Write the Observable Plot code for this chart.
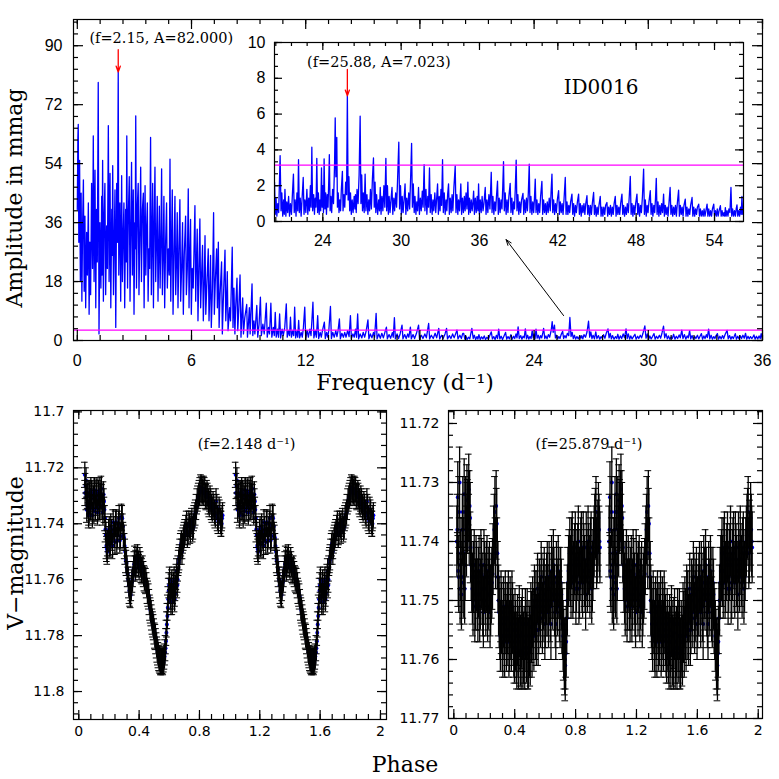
<!DOCTYPE html>
<html><head><meta charset="utf-8">
<script src="https://cdn.jsdelivr.net/npm/d3@7"></script>
<script src="https://cdn.jsdelivr.net/npm/@observablehq/plot@0.6"></script>
<style>
body{margin:0;background:#fff;}
#chart{position:relative;width:779px;height:779px;overflow:hidden;background:#fff;}
#chart svg{position:absolute;left:0;top:0;}
.ttl{position:absolute;font-family:"DejaVu Serif",serif;font-size:22px;white-space:nowrap;transform:translate(-50%,-50%);color:#000;}
.rot{transform:translate(-50%,-50%) rotate(-90deg);}
</style></head><body><div id="chart"></div>
<script>
// ---------------- DATA ----------------
// Periodogram, low frequencies [frequency d^-1, amplitude mmag]
const lowSpec = [[0.00,40],[0.03,62],[0.05,66],[0.08,30],[0.12,55],[0.16,18],[0.20,45],[0.24,12],[0.28,36],[0.32,49],[0.36,15],[0.40,38],[0.44,10],[0.49,33],[0.53,20],[0.58,42],[0.62,8],[0.66,30],[0.70,14],[0.75,48],[0.80,22],[0.84,62.5],[0.88,18],[0.93,52],[0.97,10],[1.01,40],[1.05,24],[1.10,78.8],[1.14,2],[1.19,36],[1.24,16],[1.28,44],[1.30,20],[1.33,55],[1.37,12],[1.41,38],[1.45,48],[1.49,14],[1.54,35],[1.58,22],[1.63,65.6],[1.67,18],[1.72,51],[1.76,10],[1.81,40],[1.83,26],[1.86,53.4],[1.90,14],[1.94,30],[1.98,46],[2.02,4],[2.07,48],[2.11,30],[2.15,82],[2.18,20],[2.21,35],[2.24,42],[2.28,12],[2.33,50.3],[2.37,18],[2.41,32],[2.45,42],[2.49,10],[2.54,40],[2.57,24],[2.60,62.5],[2.64,16],[2.68,38],[2.73,50],[2.77,12],[2.81,34],[2.85,54.4],[2.89,20],[2.94,46],[2.98,8],[3.02,36],[3.04,28],[3.07,68.6],[3.11,16],[3.16,42],[3.20,48],[3.24,14],[3.28,30],[3.33,52.9],[3.37,18],[3.42,40],[3.47,45],[3.51,10],[3.56,47.3],[3.60,20],[3.64,34],[3.68,42],[3.72,12],[3.76,28],[3.80,22],[3.85,62],[3.89,14],[3.96,48],[4.00,10],[4.04,36],[4.08,52.9],[4.12,18],[4.16,30],[4.20,44],[4.24,12],[4.31,41],[4.35,16],[4.39,30],[4.43,52.4],[4.47,14],[4.51,26],[4.55,44],[4.59,10],[4.64,30],[4.69,42],[4.73,16],[4.78,28],[4.83,20],[4.87,55.4],[4.91,12],[4.95,30],[4.99,46],[5.03,8],[5.08,26],[5.13,44],[5.17,14],[5.21,24],[5.25,39],[5.29,10],[5.34,28],[5.39,43],[5.43,12],[5.48,22],[5.53,36],[5.57,8],[5.62,26],[5.69,38],[5.73,14],[5.78,22],[5.83,46.3],[5.87,10],[5.91,26],[5.95,37],[5.99,8],[6.04,22],[6.09,16],[6.18,41.2],[6.22,12],[6.26,24],[6.30,34],[6.34,6],[6.39,22],[6.44,37.1],[6.48,10],[6.53,20],[6.58,29],[6.62,6],[6.67,18],[6.71,32],[6.75,8],[6.80,16],[6.88,28],[6.92,6],[6.96,14],[7.00,26],[7.04,4],[7.10,16],[7.16,39],[7.20,8],[7.25,18],[7.32,28],[7.36,10],[7.41,30],[7.45,4],[7.50,14],[7.58,24],[7.62,2],[7.67,12],[7.76,27.6],[7.80,6],[7.84,12],[7.88,21],[7.92,3],[8.00,10],[8.05,6],[8.14,28.5],[8.18,4],[8.23,16],[8.28,2],[8.32,10],[8.39,19],[8.43,3],[8.48,9],[8.55,20],[8.60,1],[8.65,8],[8.69,13],[8.73,2],[8.80,7],[8.90,11],[8.94,1],[9.00,6],[9.04,10],[9.08,2],[9.18,17.3]];
// Periodogram, mid frequencies
const midSpec = [[9.22,1.5],[9.28,6],[9.33,2],[9.43,10.7],[9.48,1],[9.55,5],[9.62,13.2],[9.67,1.5],[9.75,5],[9.82,2],[9.93,11.4],[9.98,1],[10.05,4],[10.10,2],[10.17,11.4],[10.22,1],[10.30,4],[10.35,1.5],[10.40,8.6],[10.45,1],[10.52,3.5],[10.57,1],[10.63,8.1],[10.68,0.8],[10.76,3.5],[10.82,1.5],[10.90,4],[10.98,11.2],[11.03,1],[11.10,3],[11.15,1.5],[11.20,7.1],[11.25,1],[11.32,3],[11.37,1.5],[11.42,10.2],[11.47,0.8],[11.55,3],[11.58,1],[11.63,6.1],[11.68,0.8],[11.76,2.5],[11.82,1],[11.88,4],[11.95,10.2],[12.00,0.8],[12.08,3],[12.14,1],[12.22,3.5],[12.28,1.5],[12.38,11.7],[12.43,0.8],[12.50,3],[12.56,1],[12.63,7.6],[12.68,0.6],[12.76,2.5],[12.82,1],[12.88,3],[12.98,5.6],[13.03,0.6],[13.10,2.5],[13.16,1],[13.22,3.5],[13.30,10.4],[13.35,0.6],[13.42,2.5],[13.50,1],[13.58,3],[13.64,1.2],[13.70,3],[13.77,6.6],[13.82,0.5],[13.90,2.2],[13.98,1],[14.05,2.5],[14.12,1],[14.20,3],[14.28,1.2],[14.35,7.6],[14.40,0.6],[14.48,2],[14.55,1],[14.62,3.5],[14.67,1],[14.73,8.1],[14.78,0.5],[14.86,2],[14.95,0.8],[15.02,2.5],[15.10,1],[15.18,3],[15.27,6.3],[15.32,0.5],[15.40,2],[15.48,0.8],[15.56,2.5],[15.62,1],[15.70,8.3],[15.75,0.5],[15.84,2],[15.92,0.7],[16.00,2.2],[16.08,0.8],[16.16,2.5],[16.24,4.1],[16.29,0.5],[16.38,1.8],[16.46,0.7],[16.55,2.4],[16.60,1],[16.66,7],[16.71,0.5],[16.80,2],[16.88,0.6],[16.96,2],[17.06,4.7],[17.11,0.5],[17.20,1.8],[17.28,0.6],[17.36,2],[17.42,1],[17.50,4.1],[17.55,0.5],[17.64,1.8],[17.72,0.6],[17.82,2.2],[17.93,4.7],[17.98,0.5],[18.08,1.6],[18.16,0.6],[18.26,2],[18.34,0.8],[18.46,5.2],[18.51,0.5],[18.60,1.6],[18.70,0.6],[18.80,2.2],[18.88,0.8],[18.99,3.7],[19.04,0.5],[19.14,1.6],[19.22,0.6],[19.32,2],[19.40,3.7],[19.45,0.5],[19.55,1.5],[19.63,0.6],[19.72,2],[19.80,0.8],[19.95,3.2],[20.00,0.5],[20.10,1.6],[20.18,0.6],[20.25,2.2]];
// Periodogram, high frequencies (shown in main panel and in the inset)
const hiSpec = [[20.30,2.2],[20.36,0.4],[20.42,1.3],[20.48,0.3],[20.55,1.0],[20.62,0.5],[20.73,3.68],[20.80,0.6],[20.86,1.6],[20.93,0.3],[21.00,1.2],[21.05,0.4],[21.10,1.8],[21.17,0.3],[21.24,1.1],[21.31,0.5],[21.38,1.4],[21.45,0.3],[21.52,1.0],[21.60,0.4],[21.67,1.5],[21.75,2.65],[21.81,0.5],[21.88,1.2],[21.95,0.3],[22.02,1.6],[22.08,0.6],[22.14,3.45],[22.20,0.5],[22.27,1.3],[22.34,0.3],[22.42,1.4],[22.50,2.46],[22.56,0.4],[22.63,1.2],[22.70,0.5],[22.78,1.8],[22.85,0.4],[22.92,1.3],[22.98,0.6],[23.05,2.0],[23.10,0.8],[23.16,4.15],[23.22,0.6],[23.30,1.5],[23.36,0.4],[23.42,1.3],[23.48,0.8],[23.54,3.53],[23.60,0.5],[23.66,1.6],[23.72,0.4],[23.78,1.2],[23.84,0.6],[23.90,3.0],[23.95,0.8],[24.00,2.0],[24.05,0.5],[24.10,3.5],[24.16,0.7],[24.22,1.6],[24.28,0.4],[24.34,1.5],[24.40,0.8],[24.46,2.4],[24.50,3.73],[24.56,0.6],[24.62,1.4],[24.68,0.5],[24.75,1.8],[24.82,1.0],[24.90,3.2],[24.95,5.79],[25.00,2.5],[25.07,4.7],[25.12,0.8],[25.18,1.6],[25.24,0.5],[25.30,1.2],[25.36,0.6],[25.42,1.8],[25.50,2.8],[25.55,0.6],[25.62,1.5],[25.68,0.8],[25.75,2.2],[25.82,1.5],[25.88,7.02],[25.94,1.2],[26.00,2.5],[26.06,0.6],[26.12,1.6],[26.18,0.4],[26.25,1.2],[26.32,0.5],[26.40,1.4],[26.46,0.7],[26.50,1.5],[26.56,0.5],[26.62,1.8],[26.70,1.0],[26.78,2.6],[26.86,5.88],[26.92,1.0],[26.98,2.6],[27.04,0.6],[27.10,1.6],[27.17,0.5],[27.24,2.65],[27.30,0.6],[27.38,1.5],[27.45,0.4],[27.52,1.2],[27.58,0.6],[27.65,1.8],[27.72,0.7],[27.80,2.4],[27.88,3.55],[27.94,0.8],[28.00,2.2],[28.06,0.5],[28.12,1.5],[28.20,0.4],[28.28,1.2],[28.34,0.6],[28.40,1.9],[28.46,0.4],[28.53,1.4],[28.60,0.6],[28.68,2.0],[28.75,0.8],[28.83,3.53],[28.89,0.6],[28.95,2.0],[29.02,0.4],[29.08,1.4],[29.15,0.5],[29.22,1.2],[29.30,1.9],[29.36,0.4],[29.44,1.3],[29.50,0.6],[29.58,1.6],[29.65,0.8],[29.72,2.2],[29.82,4.43],[29.88,0.7],[29.95,2.0],[30.02,0.4],[30.08,1.4],[30.15,0.5],[30.22,1.2],[30.30,2.1],[30.36,0.4],[30.43,1.3],[30.50,0.6],[30.58,1.6],[30.65,0.7],[30.72,2.3],[30.80,4.37],[30.86,0.8],[30.93,2.1],[31.00,0.5],[31.06,1.4],[31.13,0.4],[31.20,1.1],[31.26,0.6],[31.33,1.9],[31.40,0.4],[31.47,1.3],[31.54,0.6],[31.62,1.7],[31.68,0.8],[31.76,3.17],[31.82,0.6],[31.90,1.8],[31.97,0.4],[32.04,1.4],[32.10,0.8],[32.17,2.99],[32.23,0.5],[32.30,1.5],[32.37,0.4],[32.44,1.2],[32.50,0.6],[32.58,1.6],[32.65,0.5],[32.72,1.3],[32.79,2.1],[32.85,0.4],[32.92,1.4],[32.98,0.6],[33.05,1.8],[33.10,0.9],[33.17,3.45],[33.23,0.5],[33.30,1.6],[33.37,0.4],[33.44,1.2],[33.50,0.6],[33.56,1.5],[33.63,2.1],[33.69,0.4],[33.76,1.3],[33.83,0.5],[33.90,1.5],[33.96,0.6],[34.04,1.9],[34.14,3.1],[34.20,0.5],[34.27,1.5],[34.34,0.4],[34.40,1.2],[34.47,0.6],[34.57,2.1],[34.63,0.4],[34.70,1.3],[34.77,0.5],[34.84,1.4],[34.90,0.6],[34.97,1.6],[35.04,0.7],[35.11,2.2],[35.17,0.4],[35.24,1.3],[35.30,0.5],[35.37,1.2],[35.44,0.6],[35.50,1.1],[35.55,1.7],[35.61,0.4],[35.68,1.3],[35.75,0.5],[35.82,1.4],[35.88,0.6],[35.93,2.1],[35.99,0.4],[36.06,1.2],[36.13,0.5],[36.20,1.4],[36.27,0.6],[36.34,1.0],[36.44,1.9],[36.50,0.4],[36.57,1.2],[36.64,0.5],[36.72,1.5],[36.80,0.7],[36.90,2.75],[36.96,0.5],[37.03,1.4],[37.10,0.4],[37.17,1.1],[37.24,0.6],[37.30,1.4],[37.38,2.25],[37.44,0.4],[37.51,1.3],[37.58,0.5],[37.65,1.2],[37.72,0.7],[37.78,1.9],[37.84,3.35],[37.90,0.6],[37.97,1.6],[38.04,0.4],[38.11,1.2],[38.18,0.5],[38.25,1.4],[38.35,2.13],[38.41,0.5],[38.48,1.3],[38.55,0.4],[38.62,1.1],[38.68,0.7],[38.74,1.8],[38.81,3.43],[38.87,0.6],[38.94,1.5],[39.01,0.4],[39.08,1.1],[39.15,0.5],[39.22,1.2],[39.33,1.57],[39.39,0.4],[39.46,1.2],[39.53,0.5],[39.60,1.3],[39.67,0.6],[39.74,1.6],[39.81,3.2],[39.87,0.5],[39.94,1.4],[40.01,0.4],[40.08,1.1],[40.15,0.5],[40.21,1.3],[40.27,2.37],[40.33,0.5],[40.40,1.2],[40.47,0.4],[40.54,1.0],[40.61,0.5],[40.68,1.4],[40.78,2.24],[40.84,0.4],[40.91,1.2],[40.98,0.5],[41.05,1.0],[41.12,0.4],[41.19,1.1],[41.26,0.5],[41.34,1.3],[41.42,0.6],[41.48,1.6],[41.55,2.65],[41.61,0.5],[41.68,1.2],[41.75,0.4],[41.82,1.0],[41.89,0.5],[41.96,1.2],[42.06,1.72],[42.12,0.4],[42.19,1.1],[42.26,0.5],[42.33,1.0],[42.40,0.4],[42.48,1.3],[42.57,2.46],[42.63,0.4],[42.70,1.1],[42.77,0.4],[42.84,0.9],[42.91,0.5],[42.98,1.1],[43.08,1.53],[43.14,0.4],[43.21,1.0],[43.28,0.3],[43.35,0.9],[43.42,0.5],[43.50,1.1],[43.59,1.53],[43.65,0.4],[43.72,1.0],[43.79,0.3],[43.86,0.9],[43.93,0.5],[44.00,1.0],[44.07,0.4],[44.14,1.0],[44.23,1.44],[44.29,0.4],[44.36,0.9],[44.43,0.3],[44.50,0.9],[44.57,0.4],[44.64,1.0],[44.74,1.62],[44.80,0.4],[44.87,0.9],[44.94,0.3],[45.01,0.8],[45.08,0.4],[45.15,0.9],[45.25,1.4],[45.31,0.3],[45.38,0.8],[45.45,0.3],[45.52,0.8],[45.59,0.4],[45.66,0.9],[45.76,1.06],[45.82,0.3],[45.89,0.8],[45.96,0.4],[46.03,0.9],[46.10,0.3],[46.17,0.8],[46.24,0.4],[46.31,1.0],[46.40,1.4],[46.46,0.3],[46.53,0.9],[46.60,0.4],[46.67,0.8],[46.74,0.4],[46.81,1.0],[46.91,1.53],[46.97,0.4],[47.04,0.9],[47.11,0.3],[47.18,0.8],[47.25,0.4],[47.32,1.0],[47.40,0.5],[47.47,1.4],[47.55,2.52],[47.61,0.4],[47.68,1.0],[47.75,0.3],[47.82,0.9],[47.89,0.4],[47.96,1.0],[48.06,1.53],[48.12,0.4],[48.19,1.0],[48.26,0.3],[48.33,0.9],[48.40,0.5],[48.48,1.4],[48.57,2.93],[48.63,0.4],[48.70,1.2],[48.77,0.3],[48.84,0.9],[48.91,0.5],[48.98,1.1],[49.08,1.72],[49.14,0.4],[49.21,1.0],[49.28,0.3],[49.35,0.9],[49.42,0.5],[49.48,1.3],[49.54,2.41],[49.60,0.4],[49.67,1.1],[49.74,0.3],[49.81,0.9],[49.88,0.4],[49.95,1.0],[50.02,0.5],[50.10,1.53],[50.16,0.3],[50.23,0.9],[50.30,0.4],[50.37,0.8],[50.44,0.3],[50.51,1.0],[50.60,1.9],[50.66,0.4],[50.73,0.9],[50.80,0.3],[50.87,0.8],[50.94,0.4],[51.01,0.9],[51.08,0.3],[51.15,1.0],[51.25,1.75],[51.31,0.3],[51.38,0.9],[51.45,0.4],[51.52,0.8],[51.59,0.3],[51.66,0.9],[51.76,1.25],[51.82,0.3],[51.89,0.8],[51.96,0.3],[52.03,0.7],[52.10,0.4],[52.17,0.9],[52.28,1.34],[52.34,0.3],[52.41,0.8],[52.48,0.3],[52.55,0.7],[52.62,0.4],[52.69,0.8],[52.79,0.97],[52.85,0.3],[52.92,0.7],[52.99,0.3],[53.06,0.6],[53.13,0.3],[53.20,0.7],[53.27,0.3],[53.34,0.6],[53.43,0.97],[53.49,0.3],[53.56,0.7],[53.63,0.3],[53.70,0.6],[53.77,0.3],[53.84,0.7],[53.94,0.97],[54.00,0.3],[54.07,0.6],[54.14,0.3],[54.21,0.7],[54.28,0.3],[54.35,0.6],[54.45,0.88],[54.51,0.3],[54.58,0.6],[54.65,0.3],[54.72,0.5],[54.78,0.3],[54.83,0.78],[54.89,0.3],[54.96,0.6],[55.03,0.3],[55.10,0.7],[55.18,0.5],[55.26,1.9],[55.32,0.3],[55.39,0.7],[55.46,0.3],[55.53,0.6],[55.60,0.3],[55.66,0.7],[55.72,0.93],[55.78,0.3],[55.85,0.6],[55.92,0.3],[55.99,0.8],[56.05,0.4],[56.10,1.4],[56.16,0.4],[56.22,0.8]];

const noiseLevel = 3.15;               // magenta significance line (mmag)
const mainPeak = {f: 2.15, a: 82.000}; // highest peak
const insetPeak = {f: 25.88, a: 7.023};
const starId = "ID0016";
// pointer from main-panel peak towards the inset [f1, a1, f2, a2]
const pointer = [[25.55, 7.6, 22.53, 30.8]];

// Phased light curves (one cycle, shown twice) [phase, V magnitude]
const leftFreq = 2.148;
const leftPoints = [[0.040,11.7225],[0.045,11.7265],[0.050,11.7305],[0.056,11.7335],[0.062,11.7290],[0.068,11.7360],[0.074,11.7320],[0.080,11.7280],[0.087,11.7340],[0.094,11.7300],[0.100,11.7355],[0.107,11.7295],[0.114,11.7325],[0.120,11.7285],[0.127,11.7345],[0.134,11.7310],[0.140,11.7280],[0.147,11.7335],[0.154,11.7305],[0.160,11.7360],[0.167,11.7320],[0.174,11.7380],[0.180,11.7440],[0.186,11.7490],[0.192,11.7470],[0.198,11.7430],[0.205,11.7475],[0.212,11.7410],[0.220,11.7450],[0.228,11.7395],[0.236,11.7440],[0.244,11.7400],[0.252,11.7460],[0.260,11.7420],[0.268,11.7380],[0.276,11.7445],[0.284,11.7375],[0.292,11.7410],[0.300,11.7450],[0.308,11.7500],[0.316,11.7540],[0.324,11.7580],[0.332,11.7620],[0.340,11.7650],[0.348,11.7630],[0.356,11.7600],[0.364,11.7560],[0.372,11.7525],[0.380,11.7540],[0.390,11.7520],[0.400,11.7555],[0.410,11.7545],[0.420,11.7570],[0.430,11.7580],[0.440,11.7600],[0.450,11.7620],[0.460,11.7650],[0.468,11.7680],[0.476,11.7710],[0.484,11.7735],[0.492,11.7760],[0.500,11.7785],[0.508,11.7805],[0.516,11.7835],[0.524,11.7860],[0.532,11.7880],[0.540,11.7890],[0.548,11.7895],[0.556,11.7890],[0.564,11.7885],[0.572,11.7860],[0.578,11.7820],[0.584,11.7760],[0.590,11.7700],[0.596,11.7640],[0.602,11.7600],[0.608,11.7660],[0.614,11.7625],[0.620,11.7680],[0.626,11.7640],[0.632,11.7600],[0.638,11.7650],[0.644,11.7610],[0.650,11.7570],[0.656,11.7600],[0.662,11.7540],[0.668,11.7520],[0.676,11.7480],[0.684,11.7500],[0.692,11.7460],[0.700,11.7440],[0.710,11.7415],[0.720,11.7440],[0.730,11.7400],[0.740,11.7425],[0.750,11.7390],[0.760,11.7410],[0.770,11.7370],[0.780,11.7340],[0.790,11.7310],[0.800,11.7290],[0.810,11.7270],[0.820,11.7285],[0.830,11.7275],[0.840,11.7300],[0.850,11.7290],[0.860,11.7320],[0.870,11.7310],[0.880,11.7340],[0.890,11.7330],[0.900,11.7360],[0.910,11.7320],[0.920,11.7380],[0.930,11.7350],[0.940,11.7390],[0.947,11.7400],[0.953,11.7370],
[0.042,11.7290],[0.048,11.7245],[0.053,11.7350],[0.059,11.7300],[0.065,11.7370],[0.071,11.7295],[0.077,11.7345],[0.084,11.7290],[0.090,11.7370],[0.097,11.7310],[0.104,11.7280],[0.110,11.7345],[0.117,11.7300],[0.124,11.7360],[0.130,11.7290],[0.137,11.7340],[0.144,11.7300],[0.150,11.7275],[0.157,11.7340],[0.164,11.7295],[0.170,11.7350],[0.177,11.7420],[0.183,11.7480],[0.189,11.7500],[0.195,11.7455],[0.202,11.7420],[0.209,11.7470],[0.216,11.7430],[0.224,11.7480],[0.232,11.7420],[0.240,11.7465],[0.248,11.7395],[0.256,11.7440],[0.264,11.7400],[0.272,11.7460],[0.280,11.7410],[0.288,11.7380],[0.296,11.7440],[0.304,11.7480],[0.312,11.7530],[0.320,11.7560],[0.328,11.7600],[0.336,11.7640],[0.344,11.7655],[0.352,11.7610],[0.360,11.7580],[0.368,11.7545],[0.376,11.7560],[0.385,11.7530],[0.395,11.7545],[0.405,11.7530],[0.415,11.7565],[0.425,11.7560],[0.435,11.7595],[0.445,11.7605],[0.455,11.7640],[0.464,11.7660],[0.472,11.7700],[0.480,11.7720],[0.488,11.7750],[0.496,11.7770],[0.504,11.7800],[0.512,11.7820],[0.520,11.7850],[0.528,11.7870],[0.536,11.7885],[0.544,11.7895],[0.552,11.7890],[0.560,11.7895],[0.568,11.7875],[0.575,11.7845],[0.581,11.7790],[0.587,11.7730],[0.593,11.7670],[0.599,11.7620],[0.605,11.7640],[0.611,11.7680],[0.617,11.7610],[0.623,11.7660],[0.629,11.7620],[0.635,11.7670],[0.641,11.7630],[0.647,11.7590],[0.653,11.7620],[0.659,11.7560],[0.665,11.7530],[0.672,11.7500],[0.680,11.7470],[0.688,11.7480],[0.696,11.7450],[0.705,11.7430],[0.715,11.7400],[0.725,11.7430],[0.735,11.7410],[0.745,11.7400],[0.755,11.7420],[0.765,11.7380],[0.775,11.7360],[0.785,11.7320],[0.795,11.7300],[0.805,11.7280],[0.815,11.7275],[0.825,11.7290],[0.835,11.7280],[0.845,11.7305],[0.855,11.7300],[0.865,11.7330],[0.875,11.7320],[0.885,11.7350],[0.895,11.7340],[0.905,11.7370],[0.915,11.7340],[0.925,11.7390],[0.935,11.7360],[0.944,11.7400],[0.950,11.7380]];
const leftErr = 0.0045;

const rightFreq = 25.879;
const rightPoints = [[0.020,11.7400],[0.026,11.7325],[0.032,11.7460],[0.038,11.7300],[0.044,11.7440],[0.050,11.7490],[0.056,11.7380],[0.062,11.7470],[0.068,11.7320],[0.074,11.7440],[0.080,11.7380],[0.086,11.7330],[0.092,11.7355],[0.098,11.7312],[0.104,11.7340],[0.110,11.7410],[0.118,11.7460],[0.126,11.7500],[0.134,11.7440],[0.142,11.7490],[0.150,11.7460],[0.158,11.7510],[0.166,11.7450],[0.174,11.7490],[0.182,11.7455],[0.190,11.7500],[0.198,11.7440],[0.206,11.7480],[0.214,11.7460],[0.222,11.7510],[0.230,11.7470],[0.238,11.7520],[0.246,11.7480],[0.254,11.7455],[0.262,11.7400],[0.270,11.7350],[0.278,11.7340],[0.286,11.7420],[0.294,11.7500],[0.302,11.7540],[0.310,11.7510],[0.318,11.7560],[0.326,11.7520],[0.334,11.7570],[0.342,11.7530],[0.350,11.7550],[0.358,11.7510],[0.366,11.7560],[0.374,11.7540],[0.382,11.7510],[0.390,11.7550],[0.398,11.7580],[0.406,11.7560],[0.414,11.7590],[0.422,11.7570],[0.430,11.7535],[0.438,11.7585],[0.446,11.7555],[0.454,11.7590],[0.462,11.7570],[0.470,11.7540],[0.478,11.7580],[0.486,11.7590],[0.494,11.7560],[0.502,11.7585],[0.510,11.7545],[0.518,11.7520],[0.526,11.7560],[0.534,11.7510],[0.542,11.7550],[0.550,11.7480],[0.558,11.7530],[0.566,11.7500],[0.574,11.7460],[0.582,11.7530],[0.590,11.7490],[0.598,11.7540],[0.606,11.7500],[0.614,11.7460],[0.622,11.7520],[0.630,11.7480],[0.638,11.7540],[0.646,11.7470],[0.654,11.7440],[0.662,11.7500],[0.670,11.7540],[0.678,11.7490],[0.686,11.7450],[0.694,11.7510],[0.702,11.7470],[0.710,11.7530],[0.718,11.7560],[0.726,11.7590],[0.732,11.7610],[0.738,11.7570],[0.746,11.7500],[0.754,11.7450],[0.762,11.7420],[0.770,11.7470],[0.778,11.7410],[0.786,11.7460],[0.794,11.7430],[0.802,11.7480],[0.810,11.7440],[0.818,11.7400],[0.826,11.7470],[0.834,11.7420],[0.842,11.7460],[0.850,11.7410],[0.858,11.7450],[0.866,11.7490],[0.874,11.7440],[0.882,11.7400],[0.890,11.7450],[0.898,11.7420],[0.906,11.7480],[0.914,11.7440],[0.922,11.7400],[0.930,11.7370],[0.938,11.7420],[0.946,11.7390],[0.954,11.7380],[0.960,11.7410],
[0.023,11.7380],[0.029,11.7450],[0.035,11.7350],[0.041,11.7480],[0.047,11.7420],[0.053,11.7460],[0.059,11.7350],[0.065,11.7420],[0.071,11.7480],[0.077,11.7350],[0.083,11.7400],[0.089,11.7360],[0.095,11.7340],[0.101,11.7380],[0.107,11.7360],[0.114,11.7440],[0.122,11.7480],[0.130,11.7460],[0.138,11.7510],[0.146,11.7450],[0.154,11.7490],[0.162,11.7470],[0.170,11.7510],[0.178,11.7440],[0.186,11.7480],[0.194,11.7520],[0.202,11.7460],[0.210,11.7500],[0.218,11.7450],[0.226,11.7490],[0.234,11.7460],[0.242,11.7500],[0.250,11.7470],[0.258,11.7430],[0.266,11.7380],[0.274,11.7420],[0.282,11.7370],[0.290,11.7460],[0.298,11.7520],[0.306,11.7560],[0.314,11.7530],[0.322,11.7570],[0.330,11.7540],[0.338,11.7510],[0.346,11.7560],[0.354,11.7530],[0.362,11.7570],[0.370,11.7520],[0.378,11.7560],[0.386,11.7530],[0.394,11.7570],[0.402,11.7540],[0.410,11.7580],[0.418,11.7550],[0.426,11.7590],[0.434,11.7560],[0.442,11.7590],[0.450,11.7540],[0.458,11.7580],[0.466,11.7590],[0.474,11.7560],[0.482,11.7540],[0.490,11.7590],[0.498,11.7570],[0.506,11.7530],[0.514,11.7570],[0.522,11.7540],[0.530,11.7500],[0.538,11.7540],[0.546,11.7510],[0.554,11.7550],[0.562,11.7490],[0.570,11.7520],[0.578,11.7480],[0.586,11.7510],[0.594,11.7470],[0.602,11.7520],[0.610,11.7480],[0.618,11.7500],[0.626,11.7460],[0.634,11.7510],[0.642,11.7450],[0.650,11.7490],[0.658,11.7470],[0.666,11.7520],[0.674,11.7460],[0.682,11.7500],[0.690,11.7470],[0.698,11.7520],[0.706,11.7490],[0.714,11.7540],[0.722,11.7575],[0.729,11.7600],[0.735,11.7590],[0.742,11.7530],[0.750,11.7470],[0.758,11.7440],[0.766,11.7450],[0.774,11.7420],[0.782,11.7470],[0.790,11.7440],[0.798,11.7410],[0.806,11.7460],[0.814,11.7430],[0.822,11.7480],[0.830,11.7440],[0.838,11.7410],[0.846,11.7470],[0.854,11.7430],[0.862,11.7460],[0.870,11.7410],[0.878,11.7460],[0.886,11.7430],[0.894,11.7470],[0.902,11.7410],[0.910,11.7460],[0.918,11.7420],[0.926,11.7380],[0.934,11.7350],[0.942,11.7410],[0.950,11.7360],[0.957,11.7400]];
const rightErr = 0.006;

// Tick values
const mainXTicks = [0, 6, 12, 18, 24, 30, 36];
const mainYTicks = [0, 18, 36, 54, 72, 90];
const insetXTicks = [24, 30, 36, 42, 48, 54];
const insetYTicks = [0, 2, 4, 6, 8, 10];
const phaseTicks = [0, 0.4, 0.8, 1.2, 1.6, 2];
const leftYTicks = [11.7, 11.72, 11.74, 11.76, 11.78, 11.8];
const rightYTicks = [11.72, 11.73, 11.74, 11.75, 11.76, 11.77];

// ---------------- DRAWING ----------------
const fmt = d => String(+(+d).toFixed(3));
const SANS = "'Liberation Sans', Arial, Helvetica, sans-serif";
const SERIF = "'DejaVu Serif', serif";
const SIZE = 779;

function tickLabels(xVals, yVals, xPad, yPad) {
  return [
    Plot.axisX({ticks: xVals, anchor: "bottom", tickSize: 0, tickPadding: xPad, label: null, tickFormat: fmt}),
    Plot.axisY({ticks: yVals, anchor: "left", tickSize: 0, tickPadding: yPad, label: null, tickFormat: fmt})
  ];
}

// Panel geometry
const P = {
  main:  {l: 73,  r: 17,  t: 19,  b: 439, xd: [-0.2, 36],      yd: [0, 98],           rev: false},
  inset: {l: 274, r: 36,  t: 42,  b: 558, xd: [20.3, 56.22],   yd: [0, 10],           rev: false},
  left:  {l: 73,  r: 393, t: 410, b: 60,  xd: [-0.035, 2.04],  yd: [11.6995, 11.81],  rev: true},
  right: {l: 448, r: 17,  t: 410, b: 61,  xd: [-0.035, 2.028], yd: [11.7178, 11.77],  rev: true}
};

const chart = document.getElementById("chart");
const toRows = arr => arr.map(([f, a]) => ({f, a}));
const spectrum = toRows([...lowSpec, ...midSpec, ...hiSpec]);
const hiRows = toRows(hiSpec);

function base(p, style) {
  return {
    width: SIZE, height: SIZE,
    marginLeft: p.l, marginRight: p.r, marginTop: p.t, marginBottom: p.b,
    x: {domain: p.xd},
    y: {domain: p.yd, reverse: p.rev},
    style: {...style, background: "transparent", color: "#000"}
  };
}

// Main periodogram
chart.appendChild(Plot.plot({
  ...base(P.main, {fontFamily: SANS, fontSize: "16px"}),
  marks: [
    Plot.line(spectrum, {x: "f", y: "a", stroke: "#0000ff", strokeWidth: 1.3, clip: true}),
    Plot.ruleY([noiseLevel], {stroke: "#ff00ff", strokeWidth: 1.3}),
    Plot.arrow([mainPeak], {x1: "f", x2: "f", y1: d => d.a + 6.8, y2: "a", stroke: "#ff0000", strokeWidth: 1.3, headLength: 7, headAngle: 40}),
    Plot.text([mainPeak], {x: "f", y: "a", dx: 43, dy: -34, text: d => `(f=${d.f.toFixed(2)}, A=${d.a.toFixed(3)})`, fontFamily: SERIF, fontSize: 14.5, fill: "#000"}),
    Plot.arrow(pointer, {x1: d => d[0], y1: d => d[1], x2: d => d[2], y2: d => d[3], stroke: "#000", strokeWidth: 1, headLength: 9, headAngle: 40}),
    ...tickLabels(mainXTicks, mainYTicks, 14, 11)
  ]
}));

// Inset periodogram
chart.appendChild(Plot.plot({
  ...base(P.inset, {fontFamily: SANS, fontSize: "16px"}),
  marks: [
    Plot.line(hiRows, {x: "f", y: "a", stroke: "#0000ff", strokeWidth: 1.3, clip: true}),
    Plot.ruleY([noiseLevel], {stroke: "#ff00ff", strokeWidth: 1.2}),
    Plot.arrow([insetPeak], {x1: "f", x2: "f", y1: d => d.a + 1.47, y2: "a", stroke: "#ff0000", strokeWidth: 1.3, headLength: 7, headAngle: 40}),
    Plot.text([insetPeak], {x: "f", y: "a", dx: 31.5, dy: -33.7, text: d => `(f=${d.f.toFixed(2)}, A=${d.a.toFixed(3)})`, fontFamily: SERIF, fontSize: 14.5, fill: "#000"}),
    Plot.text([starId], {frameAnchor: "top-right", dx: -105, dy: 37, fontFamily: SERIF, fontSize: 20, fill: "#000"}),
    ...tickLabels(insetXTicks, insetYTicks, 13, 9)
  ]
}));

// Light curves
function lightCurve(p, points, err, freq, yMaj, ldx) {
  const one = points.map(([ph, mg]) => ({phase: ph, mag: mg}));
  const rows = [...one, ...one.map(d => ({phase: d.phase + 1, mag: d.mag}))];
  const capW = 0.022;
  return Plot.plot({
    ...base(p, {fontFamily: "'DejaVu Sans', sans-serif", fontSize: "14px"}),
    marks: [
      Plot.dot(rows, {x: "phase", y: "mag", r: 2, fill: "#0000ff"}),
      Plot.ruleX(rows, {x: "phase", y1: d => d.mag - err, y2: d => d.mag + err, stroke: "#000", strokeWidth: 1.3}),
      Plot.ruleY(rows, {y: d => d.mag - err, x1: d => d.phase - capW, x2: d => d.phase + capW, stroke: "#000", strokeWidth: 1}),
      Plot.ruleY(rows, {y: d => d.mag + err, x1: d => d.phase - capW, x2: d => d.phase + capW, stroke: "#000", strokeWidth: 1}),
      Plot.text([freq], {frameAnchor: "top-right", dx: ldx, dy: 28, text: f => `(f=${f} d⁻¹)`, fontFamily: SERIF, fontSize: 14.5, fill: "#000"}),
      ...tickLabels(phaseTicks, yMaj, 7, 9)
    ]
  });
}
chart.appendChild(lightCurve(P.left, leftPoints, leftErr, leftFreq, leftYTicks, -91));
chart.appendChild(lightCurve(P.right, rightPoints, rightErr, rightFreq, rightYTicks, -120));

// Axis titles
function title(text, x, y, rot) {
  const d = document.createElement("div");
  d.className = "ttl" + (rot ? " rot" : "");
  d.textContent = text;
  d.style.left = x + "px"; d.style.top = y + "px";
  chart.appendChild(d);
}
title("Amplitude in mmag", 14, 198, true);
title("Frequency (d⁻¹)", 405, 382, false);
title("V−magnitude", 15, 553, true);
title("Phase", 405, 764, false);

// Frames with inward ticks, drawn as separate top overlays
function frameOverlay(p, xMaj, xMin, yMaj, yMin, big, small) {
  const W = SIZE - p.l - p.r, H = SIZE - p.t - p.b;
  const s = {stroke: "#000", strokeWidth: 1.2};
  const side = (xs, ys, n) => [
    Plot.ruleX(xs, {...s, x: d => d, insetTop: H - n}),
    Plot.ruleX(xs, {...s, x: d => d, insetBottom: H - n}),
    Plot.ruleY(ys, {...s, y: d => d, insetRight: W - n}),
    Plot.ruleY(ys, {...s, y: d => d, insetLeft: W - n})
  ];
  const svg = Plot.plot({
    ...base(p, {}),
    x: {domain: p.xd, axis: null},
    y: {domain: p.yd, reverse: p.rev, axis: null},
    marks: [
      ...side(xMin, yMin, small),
      ...side(xMaj, yMaj, big),
      Plot.frame({stroke: "#000", strokeWidth: 1.2})
    ]
  });
  svg.style.zIndex = "5";
  chart.appendChild(svg);
}
frameOverlay(P.main, mainXTicks, d3.range(0, 36.01, 1.2), mainYTicks, d3.range(0, 97.5, 3.6), 10, 5);
frameOverlay(P.inset, insetXTicks, d3.range(20.4, 56.2, 1.2), insetYTicks, d3.range(0, 10.01, 2 / 3), 8, 4);
frameOverlay(P.left, phaseTicks, d3.range(0, 2.001, 0.08), leftYTicks, d3.range(11.7, 11.8095, 0.004), 9, 5);
frameOverlay(P.right, phaseTicks, d3.range(0, 2.001, 0.08), rightYTicks, d3.range(11.718, 11.7699, 0.002), 9, 5);
</script></body></html>
